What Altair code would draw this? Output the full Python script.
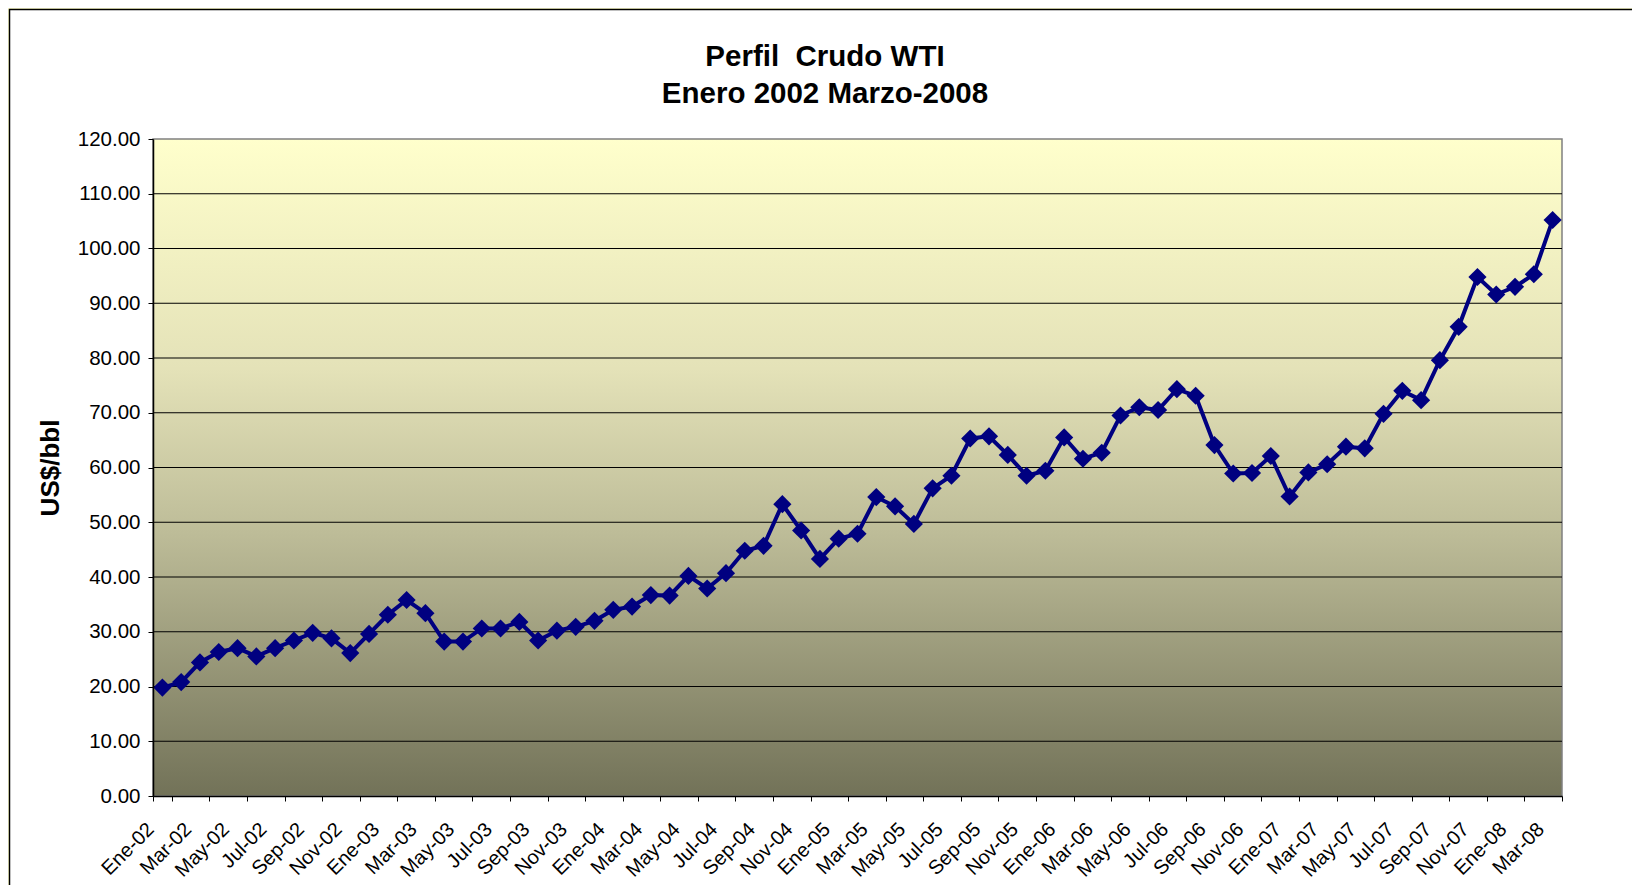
import altair as alt
import pandas as pd

# ---- data -------------------------------------------------------------
months = ["Ene", "Feb", "Mar", "Abr", "May", "Jun", "Jul", "Ago", "Sep", "Oct", "Nov", "Dic"]
years = ["02", "03", "04", "05", "06", "07", "08"]
periods = [f"{m}-{y}" for y in years for m in months][:75]

wti = [
    19.8, 20.8, 24.4, 26.3, 27.0, 25.5, 27.0, 28.4, 29.8, 28.8, 26.1, 29.6,   # 2002
    33.1, 35.8, 33.4, 28.2, 28.2, 30.6, 30.6, 31.8, 28.4, 30.2, 30.9, 32.0,   # 2003
    34.0, 34.6, 36.7, 36.6, 40.2, 37.9, 40.7, 44.8, 45.7, 53.3, 48.5, 43.3,   # 2004
    47.0, 47.9, 54.6, 52.9, 49.7, 56.2, 58.5, 65.3, 65.7, 62.3, 58.5, 59.4,   # 2005
    65.5, 61.6, 62.7, 69.5, 71.0, 70.5, 74.3, 73.1, 64.1, 58.9, 59.0, 62.1,   # 2006
    54.7, 59.1, 60.6, 63.8, 63.5, 69.8, 74.0, 72.3, 79.6, 85.7, 94.8, 91.6,   # 2007
    93.0, 95.3, 105.2,                                                        # 2008
]
y_ticks = [0, 10, 20, 30, 40, 50, 60, 70, 80, 90, 100, 110, 120]
grid_levels = [10, 20, 30, 40, 50, 60, 70, 80, 90, 100, 110]
shown_labels = periods[::2]
title_lines = ["Perfil \u00a0Crudo WTI", "Enero 2002 Marzo-2008"]

df = pd.DataFrame({"periodo": periods, "precio": wti})
grid_df = pd.DataFrame({"precio": grid_levels})
one = pd.DataFrame({"k": [0]})

# ---- layout -----------------------------------------------------------
W, H = 1409, 657
PAD = {"left": 145, "top": 131, "right": 70, "bottom": 89}
FONT = "Liberation Sans"

x_scale = alt.Scale(domain=periods, paddingInner=0, paddingOuter=0)
y_scale = alt.Scale(domain=[0, 120], nice=False, zero=True)

x_axis = alt.Axis(
    values=shown_labels, labelAngle=315, labelAlign="right", labelBaseline="middle",
    labelFontSize=20, labelColor="black", labelFont=FONT, labelPadding=25, labelOffset=-12,
    labelOverlap=False, tickBand="extent", tickExtra=False, tickSize=5, tickColor="black",
    domainColor="black", domainWidth=1.5, title=None, grid=False, zindex=1,
)
y_axis = alt.Axis(
    values=y_ticks, format=".2f", labelFontSize=20.5, labelColor="black", labelFont=FONT,
    labelPadding=8, tickSize=5, tickColor="black", domainColor="black", domainWidth=1.5,
    grid=False, title="US$/bbl", titleFontSize=26, titleFontWeight="bold", titleColor="black",
    titleFont=FONT, titleAngle=270, titleX=-103, titleY=H / 2, titleAlign="center",
    titleBaseline="middle", zindex=1,
)

y_enc = alt.Y("precio:Q", scale=y_scale, axis=y_axis)
x_enc = alt.X("periodo:N", scale=x_scale, sort=periods, axis=x_axis)

frame = alt.Chart(one).mark_rect(fill="white", stroke="black", strokeWidth=1.5).encode(
    x=alt.value(-143.5), x2=alt.value(W + 80), y=alt.value(-129.5), y2=alt.value(H + 100)
)

grad = alt.Gradient(
    gradient="linear", x1=0, x2=0, y1=0, y2=1,
    stops=[
        alt.GradientStop(color="#FFFFCC", offset=0),
        alt.GradientStop(color="#E4E2B8", offset=0.35),
        alt.GradientStop(color="#BDBC98", offset=0.6),
        alt.GradientStop(color="#727258", offset=1),
    ],
)
plot_bg = alt.Chart(one).mark_rect(fill=grad, stroke="#808080", strokeWidth=1.5).encode(
    x=alt.value(0), x2=alt.value(W), y=alt.value(0), y2=alt.value(H)
)

grid = alt.Chart(grid_df).mark_rule(color="black", strokeWidth=1.2).encode(y=y_enc)

line = alt.Chart(df).mark_line(color="#000080", strokeWidth=4).encode(x=x_enc, y=y_enc)
pts = alt.Chart(df).mark_point(
    shape="diamond", filled=True, size=330, color="#000080", opacity=1
).encode(x=x_enc, y=y_enc)

chart = (
    alt.layer(frame, plot_bg, grid, line, pts)
    .properties(
        width=W, height=H, padding=PAD,
        autosize=alt.AutoSizeParams(type="none"),
        background="#FFFFCC",
        title=alt.TitleParams(
            text=title_lines, fontSize=29.5, fontWeight="bold", font=FONT, color="black",
            anchor="middle", frame="group", baseline="bottom", lineHeight=37.5,
            offset=-130, dx=-32.5, zindex=1,
        ),
    )
    .configure_view(stroke=None)
    .configure(font=FONT)
)

chart.save("out.html", embed_options={"renderer": "svg", "actions": False})
